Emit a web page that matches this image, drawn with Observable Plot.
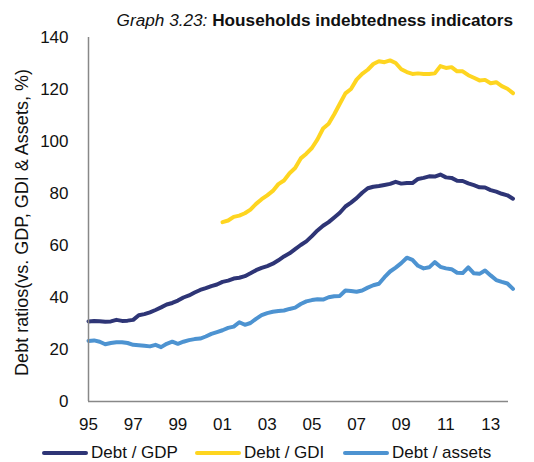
<!DOCTYPE html>
<html><head><meta charset="utf-8">
<script src="https://cdn.jsdelivr.net/npm/d3@7"></script>
<script src="https://cdn.jsdelivr.net/npm/@observablehq/plot@0.6"></script>
<style>
body{margin:0;background:#fff;font-family:"Liberation Sans",Arial,sans-serif;}
#wrap{width:534px;height:462px;position:relative;overflow:hidden;}
#title{position:absolute;top:10px;right:21px;font-size:17.2px;line-height:20px;color:#111;white-space:nowrap;}
#title i{font-weight:normal;}
#chart{position:absolute;top:30px;left:0;}
#legend{position:absolute;top:443px;left:0;width:534px;height:20px;font-size:17px;color:#111;line-height:20px;}
.item{position:absolute;top:0;display:flex;align-items:center;white-space:nowrap;}
.sw{display:inline-block;width:46px;height:4px;border-radius:2px;margin-right:3px;}
</style></head>
<body><div id="wrap">
<div id="title"><i>Graph 3.23:</i> <b>Households indebtedness indicators</b></div>
<div id="chart"></div>
<div id="legend"></div>
</div>
<script>
const seriesNames = ["Debt / GDP", "Debt / GDI", "Debt / assets"];
const seriesColors = ["#2e3576", "#fed520", "#4d93d1"];
const startYear = 1995; // quarterly data, 1995Q1 .. 2014Q1
const xTicks = [1995, 1997, 1999, 2001, 2003, 2005, 2007, 2009, 2011, 2013];
const xTickLabels = ["95", "97", "99", "01", "03", "05", "07", "09", "11", "13"];
const yTicks = [0, 20, 40, 60, 80, 100, 120, 140];
const yLabel = "Debt ratios(vs. GDP, GDI & Assets, %)";

const debtGDP = [30.8,31.0,30.9,30.7,30.8,31.4,31.0,31.1,31.4,33.2,33.6,34.3,35.2,36.2,37.3,37.9,
38.8,40.0,40.8,41.9,42.9,43.6,44.4,45.0,46.0,46.5,47.3,47.6,48.2,49.3,50.5,51.4,
52.1,53.0,54.3,55.8,57.0,58.6,60.2,61.6,63.6,65.8,67.6,69.0,70.8,72.6,75.0,76.5,
78.2,80.3,82.0,82.6,82.9,83.3,83.7,84.5,83.8,84.0,84.0,85.6,86.0,86.6,86.5,87.3,
86.2,86.0,84.9,84.8,83.9,83.2,82.4,82.3,81.3,80.7,79.9,79.3,78.0];

const debtGDIStart = 2001;
const debtGDI = [69.0,69.6,71.0,71.5,72.4,73.8,76.0,77.8,79.3,81.0,83.6,85.0,87.8,89.8,93.5,95.3,
97.5,100.8,105.0,106.8,110.5,114.5,118.5,120.2,123.8,126.0,127.6,129.8,130.9,130.5,131.2,130.2,
127.8,126.7,126.0,126.2,126.0,126.0,126.2,129.0,128.3,128.6,127.0,127.0,125.5,124.5,123.5,123.7,
122.4,122.8,121.3,120.3,118.6];

const debtAssets = [23.3,23.5,23.0,22.0,22.5,22.8,22.8,22.5,21.8,21.6,21.4,21.2,21.8,20.9,22.2,23.0,
22.2,23.0,23.6,24.0,24.2,25.0,26.0,26.7,27.4,28.3,28.8,30.5,29.5,30.2,31.8,33.2,
34.0,34.5,34.8,35.0,35.6,36.1,37.5,38.5,39.0,39.3,39.2,40.1,40.5,40.6,42.7,42.5,
42.2,42.7,43.8,44.7,45.3,47.8,50.0,51.5,53.2,55.3,54.5,52.2,51.2,51.6,53.6,51.8,
51.2,50.9,49.5,49.4,51.6,49.3,49.1,50.4,48.5,46.7,46.0,45.4,43.3];

const rows = [];
debtGDP.forEach((v, i) => rows.push({s: seriesNames[0], t: startYear + i / 4, v}));
debtGDI.forEach((v, i) => rows.push({s: seriesNames[1], t: debtGDIStart + i / 4, v}));
debtAssets.forEach((v, i) => rows.push({s: seriesNames[2], t: startYear + i / 4, v}));

const font = '"Liberation Sans", Arial, sans-serif';
const chart = Plot.plot({
  width: 534,
  height: 400,
  marginLeft: 88,
  marginRight: 26,
  marginTop: 7,
  marginBottom: 29,
  style: {fontFamily: font, fontSize: "17px", color: "#111", background: "#fff", overflow: "visible"},
  x: {domain: [1995, 2013.8]},
  y: {domain: [0, 140]},
  color: {domain: seriesNames, range: seriesColors},
  marks: [
    Plot.axisY({ticks: yTicks, tickSize: 0, tickPadding: 20, fontSize: 17, label: null}),
    Plot.text([yLabel], {frameAnchor: "left", dx: -66, dy: 3, rotate: -90, fontSize: 18, fill: "#111", textAnchor: "middle", lineAnchor: "middle"}),
    Plot.axisX({ticks: xTicks, tickSize: 0, tickPadding: 16, fontSize: 17, label: null,
      tickFormat: d => xTickLabels[xTicks.indexOf(d)]}),
    Plot.line(rows, {x: "t", y: "v", z: "s", stroke: "s", strokeWidth: 4, strokeLinejoin: "round", strokeLinecap: "round"}),
    Plot.ruleX([1995], {stroke: "#888", strokeWidth: 1.5}),
    Plot.ruleY([0], {stroke: "#888", strokeWidth: 1.5})
  ]
});
document.getElementById("chart").appendChild(chart);
chart.querySelectorAll("text").forEach(t => t.setAttribute("fill", "#111"));

const legend = document.getElementById("legend");
const legendLeft = [42, 195, 343];
seriesNames.forEach((n, i) => {
  const it = document.createElement("div");
  it.className = "item";
  it.style.left = legendLeft[i] + "px";
  const sw = document.createElement("span");
  sw.className = "sw";
  sw.style.background = seriesColors[i];
  it.appendChild(sw);
  it.appendChild(document.createTextNode(n));
  legend.appendChild(it);
});
</script>
</body></html>
